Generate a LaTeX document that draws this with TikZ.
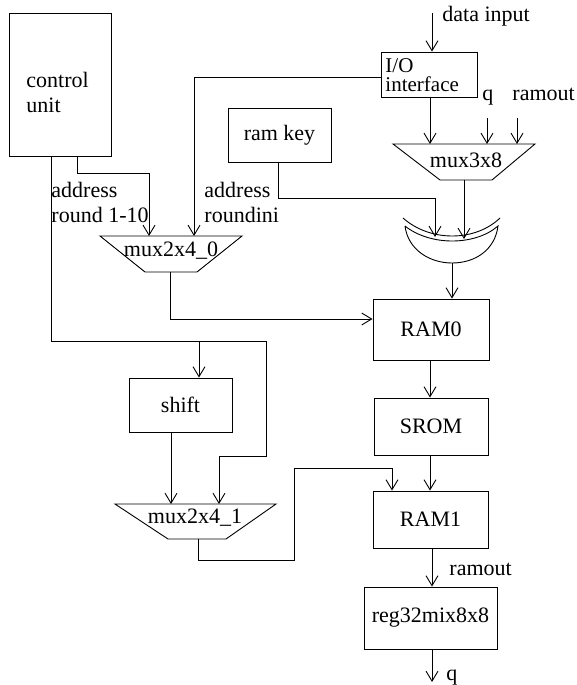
\documentclass[tikz,border=0pt]{standalone}
\usepackage{fontspec}
\setmainfont{Liberation Serif}
\usetikzlibrary{arrows.meta}

\tikzset{
  blk/.style={draw, inner sep=0pt},
  arr/.style={-{Straight Barb[length=10pt,width=12pt]}},
  lbl/.style={inner sep=0pt, align=left}
}

\begin{document}
\begin{tikzpicture}[x=1pt,y=-1pt,line width=0.9pt,
  every node/.style={font=\fontsize{22}{25}\selectfont}]
\useasboundingbox (0,0) rectangle (576,685);

% blocks
\node[blk, minimum width=102, minimum height=143] (cu) at (60,84.5) {};
\node[lbl, anchor=west] (cutxt) at (26,92) {control\\unit};
\node[blk, minimum width=96, minimum height=45] (io) at (429,74.5) {};
\node[anchor=base west, inner sep=0pt, font=\fontsize{21}{21}\selectfont] (iotxt) at (385,72.5) {I/O};
\node[anchor=base west, inner sep=0pt, font=\fontsize{21}{21}\selectfont] (iotxt2) at (385,92) {interface};
\node[blk, minimum width=103, minimum height=54] (key) at (279.5,135) {ram key};
\node[blk, minimum width=103, minimum height=54] (shift) at (180.5,405) {shift};
\node[blk, minimum width=116, minimum height=61] (ram0) at (431,329.5) {RAM0};
\node[blk, minimum width=114, minimum height=57] (srom) at (431,426.5) {SROM};
\node[blk, minimum width=115, minimum height=57] (ram1) at (430.5,519.5) {RAM1};
\node[blk, minimum width=133, minimum height=62] (reg) at (430.5,618) {reg32mix8x8};

% multiplexers
\draw (393,144) -- (535,144) -- (492,180) -- (440,180) -- cycle;
\coordinate (m3n) at (464,144);
\coordinate (m3s) at (464,180);
\node[anchor=base, inner sep=0pt] (m3) at (466,167) {mux3x8};
\draw (100,236) -- (242,236) -- (197,272) -- (145,272) -- cycle;
\coordinate (m0n) at (171,236);
\coordinate (m0s) at (170,272);
\node[anchor=base, inner sep=0pt] (m0) at (171,256) {mux2x4\_0};
\draw (115,504) -- (276,504) -- (226,539) -- (168,539) -- cycle;
\coordinate (m1n) at (196,504);
\coordinate (m1s) at (198,539);
\node[anchor=base, inner sep=0pt] (m1) at (195,523) {mux2x4\_1};

% xor
\draw (403,218) .. controls (430,242) and (475,242) .. (500,218);
\draw (405,226) .. controls (430,246) and (475,246) .. (498,226)
  .. controls (495,250) and (475,263) .. (452,263)
  .. controls (430,263) and (408,250) .. (405,226);
\coordinate (xorout) at (452,263);

% inputs and labels
\coordinate (din) at (432,13);
\node[anchor=base west, inner sep=0pt] (dinlbl) at (442,22) {data input};
\coordinate (qin) at (487,118);
\coordinate (rin) at (517,118);
\node[anchor=base west, inner sep=0pt] (qlbl) at (482,100) {q};
\node[anchor=base west, inner sep=0pt] (rlbl) at (512,100) {ramout};
\node[lbl, anchor=north west] (adr1) at (51,182) {address\\round 1-10};
\node[lbl, anchor=north west] (adr2) at (204,182) {address\\roundini};
\node[anchor=base west, inner sep=0pt] (rolbl) at (449,575) {ramout};
\coordinate (qout) at (432,682);
\node[anchor=base west, inner sep=0pt] (qolbl) at (446,680) {q};

% connections
\draw[arr] (din) -- (din |- io.north);
\draw[arr] (io.south -| 430,0) -- (430,0 |- m3n);
\draw[arr] (qin) -- (qin |- m3n);
\draw[arr] (rin) -- (rin |- m3n);
\draw[arr] (io.west |- 0,77) -| (194,0 |- m0n);
\draw[arr] (cu.south -| 77,0) |- (149,173) -- (149,0 |- m0n);
\draw[arr] (key.south -| 278,0) |- (435,198) -- (435,237);
\draw[arr] (m3s) -- (464,239);
\draw[arr] (xorout) -- (xorout |- ram0.north);
\draw[arr] (m0s) |- (ram0.west |- 0,319);
\draw (cu.south -| 51,0) |- (266,341) |- (219,456);
\draw[arr] (219,456) -- (219,0 |- m1n);
\draw[arr] (199,341) -- (199,0 |- shift.north);
\draw[arr] (shift.south -| 171,0) -- (171,0 |- m1n);
\draw[arr] (ram0.south -| 430,0) -- (430,0 |- srom.north);
\draw[arr] (srom.south -| 430,0) -- (430,0 |- ram1.north);
\draw (m1s) |- (294,560) |- (392,468);
\draw[arr] (392,468) -- (392,0 |- ram1.north);
\draw[arr] (ram1.south -| 432,0) -- (432,0 |- reg.north);
\draw[arr] (reg.south -| 432,0) -- (qout);
\end{tikzpicture}
\end{document}
